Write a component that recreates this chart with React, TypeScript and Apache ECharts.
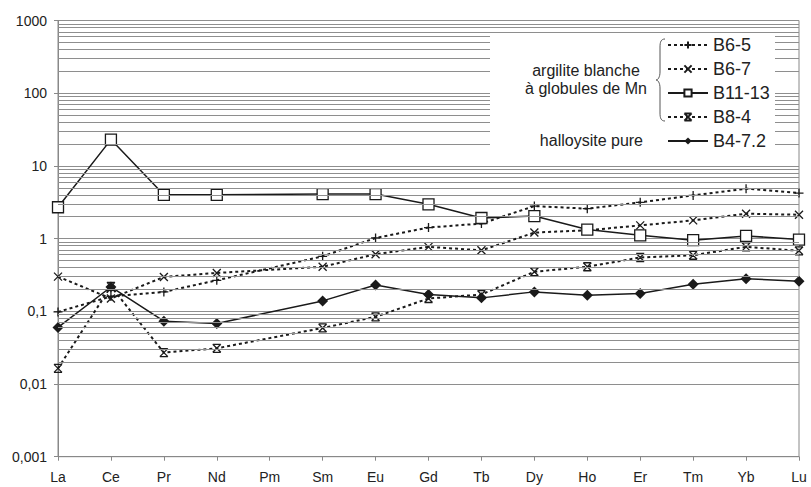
import React, { useEffect, useRef } from "react";
import * as echarts from "echarts";

const categories = ["La", "Ce", "Pr", "Nd", "Pm", "Sm", "Eu", "Gd", "Tb", "Dy", "Ho", "Er", "Tm", "Yb", "Lu"];

const b65 = [0.098, 0.16, 0.185, 0.267, null, 0.57, 1.02, 1.42, 1.61, 2.8, 2.58, 3.15, 3.93, 4.86, 4.23];
const b67 = [0.3, 0.15, 0.297, 0.337, null, 0.41, 0.61, 0.77, 0.69, 1.21, 1.3, 1.52, 1.78, 2.2, 2.13];
const b1113 = [2.7, 23, 4.0, 4.0, null, 4.1, 4.1, 2.96, 1.92, 2.04, 1.33, 1.11, 0.95, 1.09, 0.97];
const b84 = [0.0164, 0.22, 0.027, 0.031, null, 0.059, 0.084, 0.15, 0.17, 0.35, 0.41, 0.55, 0.59, 0.77, 0.68];
const b472 = [0.06, 0.216, 0.073, 0.068, null, 0.139, 0.23, 0.17, 0.153, 0.185, 0.166, 0.176, 0.236, 0.28, 0.26];

const decades = [0.001, 0.01, 0.1, 1, 10, 100];
const minorSteps = [2, 3, 4, 5, 6, 7, 8, 9];

const FONT = "'Liberation Sans', Arial, sans-serif";
const INK = "#1a1a1a";
const GRID = "#8e8e8e";

const PLUS = "path://M5,0L5,10M0,5L10,5";
const CROSS = "path://M0,0L10,10M10,0L0,10";
const STAR = "path://M0,0L10,10M10,0L0,10M0,0L10,0M0,10L10,10";

const BRACE = "M9,0 C5,0 4,3 4,8 L4,33 C4,38 2,41 0,41 C2,41 4,44 4,49 L4,74 C4,79 5,82 9,82";

export default function App() {
  const ref = useRef<HTMLDivElement>(null);
  useEffect(() => {
    if (!ref.current) return;
    echarts.graphic.registerShape("brace", echarts.graphic.extendPath(BRACE, {}));
    const chart = echarts.init(ref.current, undefined, { renderer: "svg" });

    const minorLines: any[] = [];
    decades.forEach((d) => minorSteps.forEach((k) => minorLines.push({ yAxis: parseFloat((d * k).toPrecision(6)) })));

    const dotted = { type: [3, 3] as any, width: 2, color: INK };
    const solid = { type: "solid", width: 1.5, color: INK };
    const strokeSym = { color: INK, borderColor: INK, borderWidth: 1.3 };

    chart.setOption({
      animation: false,
      backgroundColor: "#ffffff",
      textStyle: { fontFamily: FONT },
      grid: { left: 58, right: 12, top: 20.5, bottom: 30.3, show: true, borderColor: "#888", borderWidth: 1, containLabel: false },
      xAxis: {
        type: "category",
        data: categories,
        boundaryGap: false,
        axisLine: { lineStyle: { color: "#888", width: 1 } },
        axisTick: { show: true, length: 4, lineStyle: { color: "#888" } },
        axisLabel: { color: "#222", fontSize: 14, margin: 13, fontFamily: FONT },
        splitLine: { show: false },
      },
      yAxis: {
        type: "log",
        logBase: 10,
        min: 0.001,
        max: 1000,
        axisLine: { show: true, lineStyle: { color: "#888", width: 1 } },
        axisTick: { show: true, length: 4, lineStyle: { color: "#888" } },
        axisLabel: {
          color: "#222",
          fontSize: 14,
          margin: 11,
          fontFamily: FONT,
          formatter: (v: number) => String(parseFloat(v.toPrecision(6))).replace(".", ","),
        },
        splitLine: { show: true, lineStyle: { color: GRID, width: 1 } },
      },
      legend: {
        orient: "vertical",
        left: 667,
        top: 36,
        padding: 0,
        z: 60,
        itemWidth: 40,
        itemHeight: 9,
        itemGap: 6,
        textStyle: { fontSize: 18, color: "#222", fontFamily: FONT },
        data: ["B6-5", "B6-7", "B11-13", "B8-4", "B4-7.2"],
        selectedMode: false,
      },
      graphic: [
        { type: "rect", x: 490, y: 33, z: 50, shape: { x: 0, y: 0, width: 285, height: 122 }, style: { fill: "#ffffff" }, silent: true },
        { type: "text", x: 586, y: 70, z: 100, style: { text: "argilite blanche", fill: "#222", font: `16px ${FONT}`, textAlign: "center", textVerticalAlign: "middle" } },
        { type: "text", x: 586, y: 88, z: 100, style: { text: "à globules de Mn", fill: "#222", font: `16px ${FONT}`, textAlign: "center", textVerticalAlign: "middle" } },
        { type: "text", x: 643, y: 140, z: 100, style: { text: "halloysite pure", fill: "#222", font: `16px ${FONT}`, textAlign: "right", textVerticalAlign: "middle" } },
        { type: "brace", x: 656, y: 39, z: 100, style: { stroke: "#555", fill: "none", lineWidth: 1 } },
      ],
      series: [
        {
          name: "_grid",
          type: "line",
          data: categories.map(() => null),
          z: 1,
          silent: true,
          markLine: {
            silent: true,
            symbol: ["none", "none"],
            label: { show: false },
            emphasis: { disabled: true },
            lineStyle: { color: GRID, width: 1, type: "solid" },
            data: minorLines,
          },
        },
        {
          name: "B6-5",
          type: "line",
          data: b65,
          connectNulls: true,
          z: 3,
          symbol: PLUS,
          symbolSize: 9,
          lineStyle: dotted,
          itemStyle: strokeSym,
        },
        {
          name: "B6-7",
          type: "line",
          data: b67,
          connectNulls: true,
          z: 3,
          symbol: CROSS,
          symbolSize: 8,
          lineStyle: dotted,
          itemStyle: strokeSym,
        },
        {
          name: "B11-13",
          type: "line",
          data: b1113,
          connectNulls: true,
          z: 4,
          symbol: "rect",
          symbolSize: 11,
          lineStyle: solid,
          itemStyle: { color: "#ffffff", borderColor: INK, borderWidth: 1.3 },
        },
        {
          name: "B8-4",
          type: "line",
          data: b84,
          connectNulls: true,
          z: 3,
          symbol: STAR,
          symbolSize: 8,
          lineStyle: dotted,
          itemStyle: strokeSym,
        },
        {
          name: "B4-7.2",
          type: "line",
          data: b472,
          connectNulls: true,
          z: 4,
          symbol: "diamond",
          symbolSize: 11,
          lineStyle: solid,
          itemStyle: { color: INK, borderColor: INK, borderWidth: 0 },
        },
      ],
    });
    return () => chart.dispose();
  }, []);
  return <div ref={ref} style={{ position: "fixed", left: 0, top: 0, width: 811, height: 487, background: "#fff" }} />;
}
